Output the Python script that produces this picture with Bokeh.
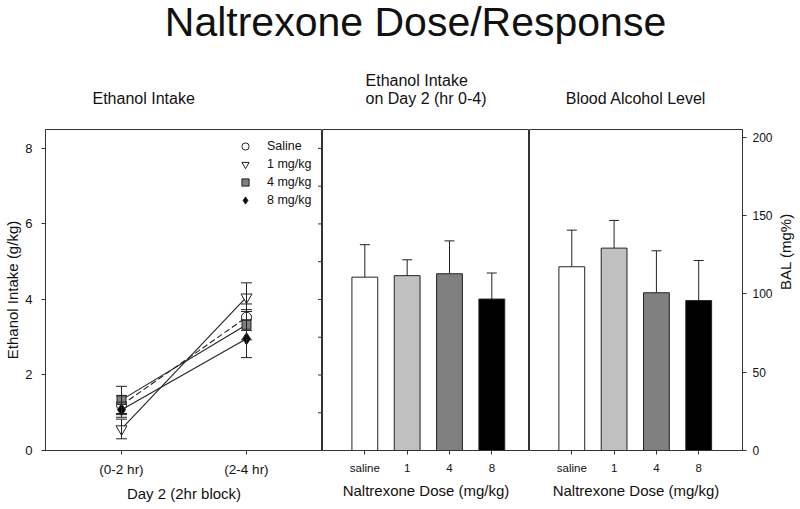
import math
from bokeh.plotting import figure
from bokeh.layouts import row, column
from bokeh.models import (ColumnDataSource, Whisker, TeeHead, FixedTicker, Range1d,
                          LinearAxis, Legend, LegendItem, Title)
from bokeh.core.properties import value
from bokeh.embed import file_html
from bokeh.resources import INLINE

FONT = "Liberation Sans"
DARK = "#333333"
TXT = "#111111"

# ---------------- data ----------------
time_blocks = ["(0-2 hr)", "(2-4 hr)"]
time_pos = [1, 2]
saline_mean = [1.20, 3.53]
saline_sem = [0.25, 0.35]
mg1_mean = [0.57, 4.06]
mg1_sem = [0.26, 0.38]
mg4_mean = [1.34, 3.33]
mg4_sem = [0.36, 0.40]
mg8_mean = [1.08, 2.96]
mg8_sem = [0.20, 0.50]
series_names = ["Saline", "1 mg/kg", "4 mg/kg", "8 mg/kg"]

dose_labels = ["saline", "1", "4", "8"]
dose_pos = [1, 2, 3, 4]
intake_mean = [4.59, 4.63, 4.68, 4.01]
intake_sem = [0.86, 0.42, 0.87, 0.69]
bal_mean = [117.4, 129.3, 100.8, 95.8]
bal_sem = [23.4, 17.7, 26.8, 25.6]
bar_colors = ["#ffffff", "#c0c0c0", "#808080", "#000000"]

left_ticks = [0, 2, 4, 6, 8]
inner_ticks = [1, 2, 3, 4, 5, 6, 7, 8]
bal_ticks = [0, 50, 100, 150, 200]

TITLE_H = 45
TOP_B = 84


def style_axis(ax, label_size="13px"):
    ax.axis_line_color = DARK
    ax.major_tick_line_color = DARK
    ax.minor_tick_line_color = None
    ax.major_tick_in = 0
    ax.major_tick_out = 4
    ax.major_label_text_font = FONT
    ax.major_label_text_font_size = label_size
    ax.major_label_text_color = TXT
    ax.axis_label_text_font = FONT
    ax.axis_label_text_font_size = "15px"
    ax.axis_label_text_font_style = "normal"
    ax.axis_label_text_color = TXT


def base_fig(xr, yr, fw, mbl, mbr):
    p = figure(frame_width=fw, frame_height=321, x_range=xr, y_range=yr,
               toolbar_location=None, output_backend="svg",
               min_border_left=mbl, min_border_right=mbr,
               min_border_top=TOP_B, min_border_bottom=59)
    p.xgrid.visible = False
    p.ygrid.visible = False
    p.outline_line_color = DARK
    p.outline_line_width = 1
    p.background_fill_color = "white"
    p.border_fill_color = "white"
    return p


def subtitle(p, text, align="center", offset=0):
    t = Title(text=text, align=align, offset=offset, text_font=FONT,
              text_font_size="16px", text_font_style="normal",
              text_color=TXT, standoff=45)
    if "text_line_height" in t.properties():
        t.text_line_height = 1.05
    p.add_layout(t, "above")


# ---------------- main title ----------------
pt = figure(frame_width=800, frame_height=TITLE_H, x_range=Range1d(0, 800),
            y_range=Range1d(0, TITLE_H), title=None, x_axis_type=None, y_axis_type=None,
            toolbar_location=None, output_backend="svg", min_border=0)
pt.grid.visible = False
pt.outline_line_color = None
pt.text(x=[415], y=[TITLE_H / 2 + 1], text=["Naltrexone Dose/Response"], text_font=value(FONT),
        text_font_size="41px", text_align="center", text_baseline="middle",
        text_color=TXT)

# ---------------- panel A ----------------
xa = Range1d(0.392, 2.608)
pa = base_fig(xa, Range1d(0, 8.5), 277, 45, 0)
pa.yaxis.ticker = FixedTicker(ticks=left_ticks)
pa.xaxis.ticker = FixedTicker(ticks=time_pos)
pa.xaxis.major_label_overrides = {p: l for p, l in zip(time_pos, time_blocks)}
pa.xaxis.axis_label = "Day 2 (2hr block)"
pa.yaxis.axis_label = "Ethanol Intake (g/kg)"
style_axis(pa.xaxis[0], "13.5px")
style_axis(pa.yaxis[0], "13px")
pa.xaxis.major_label_standoff = 7
pa.xaxis.axis_label_standoff = 5
pa.yaxis.major_label_standoff = 9
pa.yaxis.axis_label_standoff = 1
subtitle(pa, "Ethanol Intake", align="left", offset=47)

# small inner ticks on the shared A|B edge
pa.scatter(x=[xa.end] * len(inner_ticks), y=inner_ticks, marker="dash", size=9,
           line_color=DARK, line_width=1)

means = [saline_mean, mg1_mean, mg4_mean, mg8_mean]
sems = [saline_sem, mg1_sem, mg4_sem, mg8_sem]
dashes = ["6 3", "solid", "solid", "solid"]
markers = ["circle", "inverted_triangle", "square", "diamond"]
fills = ["#ffffff", "#ffffff", "#808080", "#000000"]
sizes = [10, 11, 9, 12]
legend_items = []
for name, m, s, d, mk, fc, sz in zip(series_names, means, sems, dashes, markers, fills, sizes):
    src = ColumnDataSource(dict(x=time_pos, y=m,
                                lo=[a - b for a, b in zip(m, s)],
                                hi=[a + b for a, b in zip(m, s)]))
    pa.line("x", "y", source=src, line_color="#222222", line_width=1.1, line_dash=d)
    w = Whisker(base="x", upper="hi", lower="lo", source=src, line_color="#222222",
                upper_head=TeeHead(size=11, line_color="#222222"),
                lower_head=TeeHead(size=11, line_color="#222222"), level="glyph")
    pa.add_layout(w)
    r = pa.scatter("x", "y", source=src, marker=mk, size=sz, fill_color=fc,
                   line_color="#222222", line_width=1)
    legend_items.append(LegendItem(label=name, renderers=[r]))

leg = Legend(items=legend_items, location=(191, 241), border_line_color=None,
             background_fill_alpha=0, label_text_font=FONT, label_text_font_size="12.5px",
             label_text_color=TXT, glyph_width=18, glyph_height=18,
             label_height=16, spacing=0, padding=0, margin=0, label_standoff=13)
pa.add_layout(leg)

# ---------------- panel B ----------------
pb = base_fig(Range1d(0, 4.89), pa.y_range, 207, 0, 0)
pb.yaxis.visible = False
pb.xaxis.ticker = FixedTicker(ticks=dose_pos)
pb.xaxis.major_label_overrides = {p: l for p, l in zip(dose_pos, dose_labels)}
pb.xaxis.axis_label = "Naltrexone Dose (mg/kg)"
style_axis(pb.xaxis[0], "11.5px")
pb.xaxis.major_label_standoff = 7
pb.xaxis.axis_label_standoff = 5
subtitle(pb, "Ethanol Intake\non Day 2 (hr 0-4)")
srcb = ColumnDataSource(dict(x=dose_pos, top=intake_mean, color=bar_colors,
                             hi=[a + b for a, b in zip(intake_mean, intake_sem)]))
pb.add_layout(Whisker(base="x", upper="hi", lower="top", source=srcb, line_color="#222222",
                      upper_head=TeeHead(size=10, line_color="#222222"), lower_head=None,
                      level="underlay"))
pb.vbar(x="x", top="top", bottom=0, width=0.61, source=srcb, fill_color="color",
        line_color="#222222", line_width=1)

# ---------------- panel C ----------------
pc = base_fig(Range1d(0, 5.035), Range1d(0, 205.1), 213, 0, 57)
pc.yaxis.visible = False
pc.xaxis.ticker = FixedTicker(ticks=dose_pos)
pc.xaxis.major_label_overrides = {p: l for p, l in zip(dose_pos, dose_labels)}
pc.xaxis.axis_label = "Naltrexone Dose (mg/kg)"
style_axis(pc.xaxis[0], "11.5px")
pc.xaxis.major_label_standoff = 7
pc.xaxis.axis_label_standoff = 5
rc = LinearAxis(ticker=FixedTicker(ticks=bal_ticks), axis_label="BAL (mg%)")
style_axis(rc, "12px")
rc.major_label_standoff = 6
rc.axis_label_standoff = 10
if "axis_label_orientation" in rc.properties():
    rc.axis_label_orientation = math.pi / 2
pc.add_layout(rc, "right")
subtitle(pc, "Blood Alcohol Level")
srcc = ColumnDataSource(dict(x=dose_pos, top=bal_mean, color=bar_colors,
                             hi=[a + b for a, b in zip(bal_mean, bal_sem)]))
pc.add_layout(Whisker(base="x", upper="hi", lower="top", source=srcc, line_color="#222222",
                      upper_head=TeeHead(size=10, line_color="#222222"), lower_head=None,
                      level="underlay"))
pc.vbar(x="x", top="top", bottom=0, width=0.61, source=srcc, fill_color="color",
        line_color="#222222", line_width=1)

layout = column(pt, row(pa, pb, pc, spacing=0), spacing=0)
open("out.html", "w").write(file_html(layout, INLINE))
